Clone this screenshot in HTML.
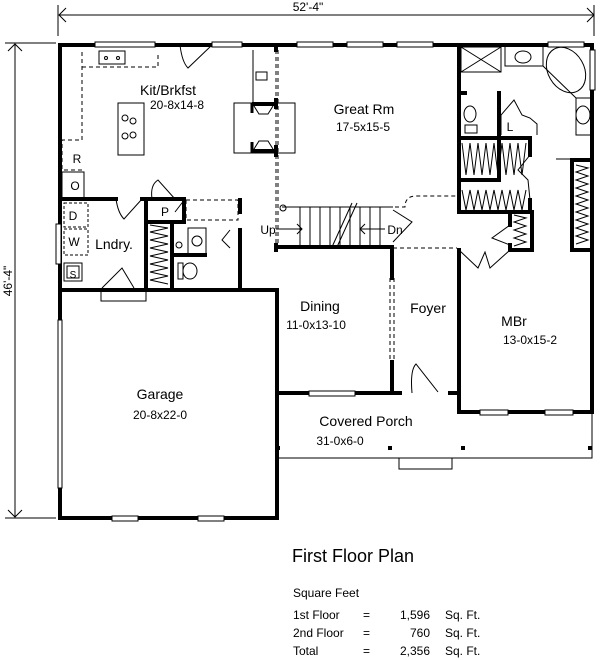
<!DOCTYPE html>
<html><head><meta charset="utf-8"><style>
html,body{margin:0;padding:0;background:#fff;}
svg{display:block;font-family:"Liberation Sans",Arial,sans-serif;}
</style></head><body>
<svg width="600" height="660" viewBox="0 0 600 660" xmlns="http://www.w3.org/2000/svg">
<g fill="none" stroke="#000" stroke-width="1">
 <line x1="59" y1="15" x2="594" y2="15"/>
 <polyline points="66,8 59,15 66,22"/><polyline points="587,8 594,15 587,22"/>
 <line x1="58" y1="5" x2="58" y2="36"/><line x1="594" y1="5" x2="594" y2="36"/>
 <line x1="15" y1="44" x2="15" y2="517"/>
 <polyline points="8,51 15,44 22,51"/><polyline points="8,510 15,517 22,510"/>
 <line x1="5" y1="43" x2="56" y2="43"/><line x1="5" y1="518" x2="56" y2="518"/>
</g>
<text x="308" y="11" font-size="12" text-anchor="middle">52'-4"</text>
<text transform="translate(12,281) rotate(-90)" font-size="12" text-anchor="middle">46'-4"</text>

<g stroke="#000" stroke-width="4" fill="none" stroke-linecap="square">
 <polyline points="60,45 592,45 592,412 459,412"/>
 <line x1="60" y1="45" x2="60" y2="320"/>
 <line x1="60" y1="488" x2="60" y2="518"/>
 <line x1="60" y1="518" x2="277" y2="518"/>
 <line x1="277" y1="290" x2="277" y2="518"/>
 <line x1="60" y1="290" x2="277" y2="290"/>
 <line x1="276" y1="45" x2="276" y2="50"/>
 <line x1="276" y1="100" x2="276" y2="107"/>
 <line x1="276" y1="147" x2="276" y2="155"/>
 <line x1="276" y1="245" x2="276" y2="250"/>
 <line x1="459" y1="45" x2="459" y2="212"/>
 <line x1="459" y1="250" x2="459" y2="412"/>
 <line x1="278" y1="247" x2="392" y2="247"/>
 <line x1="392" y1="247" x2="392" y2="278"/>
 <line x1="392" y1="362" x2="392" y2="393"/>
 <line x1="278" y1="393" x2="392" y2="393"/>
 <line x1="392" y1="393" x2="400" y2="393"/>
 <line x1="450" y1="393" x2="459" y2="393"/>
 <line x1="60" y1="199" x2="116" y2="199"/>
 <line x1="142" y1="199" x2="184" y2="199"/>
 <line x1="146" y1="199" x2="146" y2="290"/>
 <line x1="146" y1="222" x2="184" y2="222"/>
 <line x1="184" y1="199" x2="184" y2="222"/>
 <line x1="172" y1="222" x2="172" y2="290"/>
 <line x1="174" y1="255" x2="205" y2="255"/>
 <line x1="240" y1="230" x2="240" y2="290"/>
 <line x1="240" y1="200" x2="240" y2="212"/>
 <line x1="459" y1="138" x2="530" y2="138"/>
 <line x1="459" y1="212" x2="530" y2="212"/>
 <line x1="530" y1="138" x2="530" y2="155"/>
 <line x1="530" y1="200" x2="530" y2="212"/>
 <line x1="510" y1="212" x2="510" y2="225"/>
 <line x1="510" y1="245" x2="510" y2="250"/>
 <line x1="510" y1="250" x2="532" y2="250"/>
 <line x1="532" y1="212" x2="532" y2="250"/>
 <line x1="572" y1="160" x2="592" y2="160"/>
 <line x1="572" y1="160" x2="572" y2="250"/>
 <line x1="572" y1="250" x2="592" y2="250"/>
 <line x1="459" y1="93" x2="465" y2="93"/>
 <line x1="499" y1="93" x2="499" y2="180"/>
 <line x1="459" y1="180" x2="499" y2="180"/>
</g>
<!-- fireplace -->
<g stroke="#000" fill="none">
 <rect x="234" y="103" width="61" height="50" stroke-width="1"/>
 <line x1="252" y1="104" x2="276" y2="104" stroke-width="4"/>
 <line x1="252" y1="151" x2="276" y2="151" stroke-width="4"/>
 <line x1="252" y1="103" x2="252" y2="113" stroke-width="3"/>
 <line x1="252" y1="142" x2="252" y2="153" stroke-width="3"/>
 <path d="M254,106 L259,114 L268,114 L273,106" stroke-width="1"/>
 <path d="M254,149 L259,141 L268,141 L273,149" stroke-width="1"/>
 <line x1="253" y1="50" x2="253" y2="102" stroke-width="1"/>
 <rect x="256" y="72" width="11" height="8" stroke-width="1"/>
</g>

<g stroke="#000" stroke-width="1" fill="none">
 <rect x="95" y="42" width="60" height="5" fill="#fff"/>
 <rect x="212" y="42" width="30" height="5" fill="#fff"/>
 <rect x="297" y="42" width="36" height="5" fill="#fff"/>
 <rect x="347" y="42" width="36" height="5" fill="#fff"/>
 <rect x="397" y="42" width="36" height="5" fill="#fff"/>
 <rect x="548" y="42" width="36" height="5" fill="#fff"/>
 <rect x="590" y="50" width="5" height="40" fill="#fff"/>
 <rect x="56" y="224" width="5" height="40" fill="#fff"/>
 <rect x="58" y="320" width="4" height="168" fill="#fff"/>
 <rect x="112" y="516" width="26" height="5" fill="#fff"/>
 <rect x="198" y="516" width="26" height="5" fill="#fff"/>
 <rect x="309" y="391" width="46" height="5" fill="#fff"/>
 <rect x="480" y="410" width="28" height="5" fill="#fff"/>
 <rect x="545" y="410" width="28" height="5" fill="#fff"/>
 <polyline points="277,393 277,458 592,458 592,412"/>
 <rect x="399" y="458" width="53" height="11"/>
 <rect x="101" y="290" width="45" height="11"/>
 <path d="M82,52 L82,140 L62,140 L62,170 L82,170" stroke-dasharray="4,3"/>
 <path d="M82,67 L158,67 L158,52" stroke-dasharray="4,3"/>
 <rect x="99" y="51" width="26" height="13"/>
 <circle cx="106" cy="58" r="1.5"/><circle cx="118" cy="58" r="1.5"/>
 <rect x="118" y="103" width="26" height="52"/>
 <circle cx="125" cy="118" r="3"/><circle cx="133" cy="121" r="3"/><circle cx="125" cy="136" r="3"/><circle cx="133" cy="135" r="3"/>
 <rect x="62" y="172" width="22" height="26"/>
 <path d="M180,45 Q182,62 188,68 L212,45"/>
 <path d="M116,199 Q118,213 124,219 L142,199"/>
 <path d="M152,199 Q150,185 158,180 L175,199"/>
 <path d="M102,288 L122,268 L134,288"/>
 <path d="M412,393 Q410,370 416,364 L438,392"/>
 <rect x="64" y="203" width="24" height="24" stroke-dasharray="3,2"/>
 <rect x="64" y="229" width="24" height="26" stroke-dasharray="3,2"/>
 <rect x="64" y="263" width="18" height="18"/><rect x="67" y="266" width="12" height="12"/>
 <path d="M150,225 L168,228 L150,232 L168,236 L150,240 L168,244 L150,248 L168,252 L150,256 L168,260 L150,264 L168,268 L150,272 L168,276 L150,280 L168,284"/>
 <rect x="186" y="200" width="52" height="20" stroke-dasharray="4,3"/>
 <rect x="188" y="228" width="18" height="26"/><circle cx="197" cy="241" r="5"/>
 <circle cx="179" cy="245" r="3"/>
 <rect x="178" y="263" width="5" height="16"/><ellipse cx="190" cy="271" rx="7" ry="8"/>
 <line x1="276" y1="50" x2="276" y2="245" stroke-dasharray="4,3"/>
 <line x1="278" y1="50" x2="278" y2="245" stroke-dasharray="4,3"/>
 <path d="M395,207 L405,207 Q405,196 416,196 L457,196" stroke-dasharray="4,3"/>
 <line x1="393" y1="248" x2="457" y2="248" stroke-dasharray="4,3"/>
 <line x1="390" y1="278" x2="390" y2="362" stroke-dasharray="4,3"/>
 <line x1="394" y1="278" x2="394" y2="362" stroke-dasharray="4,3"/>
 <line x1="282" y1="207" x2="393" y2="207"/>
 <circle cx="283" cy="208" r="3"/>
 <line x1="278" y1="247" x2="393" y2="247" stroke-width="3"/>
 <path d="M300,207 V247 M310,207 V247 M320,207 V247 M330,207 V247 M340,207 V247 M350,207 V247 M360,207 V247 M370,207 V247 M380,207 V247"/>
 <line x1="332" y1="247" x2="352" y2="203"/><line x1="337" y1="247" x2="357" y2="203"/>
 <line x1="276" y1="229" x2="302" y2="229"/><polyline points="297,224 302,229 297,234"/>
 <line x1="360" y1="229" x2="385" y2="229"/><polyline points="365,224 360,229 365,234"/>
 <path d="M393,210 L412,222 L393,242"/>
 <rect x="461" y="47" width="40" height="25"/>
 <line x1="461" y1="47" x2="501" y2="72"/><line x1="501" y1="47" x2="461" y2="72"/>
 <path d="M505,47 L505,66 L543,66 L543,47"/><ellipse cx="523" cy="57" rx="8" ry="6"/>
 <path d="M543,47 L543,66 L576,98 L592,98"/><ellipse cx="566" cy="70" rx="18" ry="24" transform="rotate(-30 566 70)"/>
 <path d="M576,98 L576,135 L592,135"/><ellipse cx="583" cy="115" rx="7" ry="9"/>
 <line x1="556" y1="159" x2="592" y2="159"/>
 <ellipse cx="470" cy="114" rx="6" ry="8"/><rect x="465" y="125" width="12" height="8"/>
 <path d="M501,135 L501,115 L514,100 L522,115 L530,118 L537,124 L537,135"/>
 <path d="M462,143 L466,175 L470,143 L474,175 L478,143 L482,175 L486,143 L490,175 L494,143 L498,175 L502,143 L506,175 L510,143 L514,175 L518,143 L522,175 L526,143"/>
 <path d="M462,190 L466,210 L470,190 L474,210 L478,190 L482,210 L486,190 L490,210 L494,190 L498,210 L502,190 L506,210 L510,190 L514,210 L518,190 L522,210 L526,190"/>
 <path d="M530,155 L518,170 L528,180 L530,200"/>
 <path d="M514,215 L526,218 L514,222 L526,226 L514,230 L526,234 L514,238 L526,242 L514,246"/>
 <path d="M576,165 L588,168 L576,172 L588,176 L576,180 L588,184 L576,188 L588,192 L576,196 L588,200 L576,204 L588,208 L576,212 L588,216 L576,220 L588,224 L576,228 L588,232 L576,236 L588,240 L576,244"/>
 <path d="M510,225 L492,238 L510,245"/>
 <path d="M459,250 L478,268 L485,252 L490,268 L510,250"/>
 <path d="M175,212 L185,199 M230,230 L222,240 L230,248"/>
</g>
<g fill="#000">
 <rect x="276" y="446" width="4" height="4"/><rect x="388" y="446" width="4" height="4"/>
 <rect x="461" y="446" width="4" height="4"/><rect x="588" y="446" width="4" height="4"/>
</g>

<g font-size="14" text-anchor="middle" fill="#000">
 <text x="168" y="95">Kit/Brkfst</text>
 <text x="364" y="114">Great Rm</text>
 <text x="114" y="249">Lndry.</text>
 <text x="320" y="311">Dining</text>
 <text x="428" y="313">Foyer</text>
 <text x="514" y="326">MBr</text>
 <text x="160" y="399">Garage</text>
 <text x="366" y="426">Covered Porch</text>
</g>
<g font-size="12" text-anchor="middle" fill="#000">
 <text x="177" y="109">20-8x14-8</text>
 <text x="363" y="131">17-5x15-5</text>
 <text x="316" y="329">11-0x13-10</text>
 <text x="530" y="344">13-0x15-2</text>
 <text x="160" y="419">20-8x22-0</text>
 <text x="340" y="445">31-0x6-0</text>
 <text x="77" y="163">R</text><text x="75" y="190">O</text>
 <text x="73" y="220">D</text><text x="74" y="246">W</text>
 <text x="73" y="278" font-size="10">S</text>
 <text x="165" y="216">P</text>
 <text x="510" y="131">L</text>
 <text x="268" y="234">Up</text>
 <text x="395" y="234">Dn</text>
</g>
<g fill="#000" font-size="12">
 <text x="292" y="562" font-size="18">First Floor Plan</text>
 <text x="293" y="597">Square Feet</text>
 <text x="293" y="619">1st Floor</text><text x="363" y="619">=</text><text x="430" y="619" text-anchor="end">1,596</text><text x="445" y="619">Sq. Ft.</text>
 <text x="293" y="637">2nd Floor</text><text x="363" y="637">=</text><text x="430" y="637" text-anchor="end">760</text><text x="445" y="637">Sq. Ft.</text>
 <text x="293" y="655">Total</text><text x="363" y="655">=</text><text x="430" y="655" text-anchor="end">2,356</text><text x="445" y="655">Sq. Ft.</text>
</g>
</svg>
</body></html>
